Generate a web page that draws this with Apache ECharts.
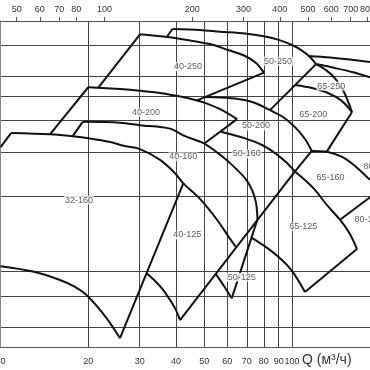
<!DOCTYPE html>
<html><head><meta charset="utf-8">
<script src="https://cdn.jsdelivr.net/npm/echarts@6/dist/echarts.min.js"></script>
<style>html,body{margin:0;padding:0;background:#fff}#c{width:370px;height:370px}</style>
</head><body><div id="c"></div>
<script>
// Axis ticks
const qTicks = [10,20,30,40,50,60,70,80,90,100];            // m3/h (bottom)
const gpmTicks = [50,60,70,80,100,200,300,400,500,600,700,800,900]; // US gpm (top)
const hTicks = [5,6,8,10,20,30,40,50,60,80,100];            // head, m
const qRange = [10,185.2];
const gpmPerM3h = 4.403;

// Pump field boundaries [Q m3/h, H m]
const c32_160_left   = [[10,31.4],[10.86,35.7]];
const c32_160_top    = [[10.86,35.7],[14.77,35.3],[17.68,34.7],[20.27,34.0],[23.74,32.9],[26.73,31.7],[30.09,30.8],[35.25,27.9],[39.67,24.7],[42.37,22.5],[48.34,19.5],[55.29,16.1],[60.79,13.7],[64.25,12.5]];
const c32_160_bottom = [[10,10.5],[12.92,10.0],[15.99,9.25],[18.0,8.68],[19.99,7.94],[23.13,6.51],[25.69,5.42]];
const c32_160_right  = [[25.69,5.42],[42.37,22.5]];
const c40_125_bottom = [[31.72,9.84],[34.14,9.09],[36.18,8.44],[38.13,7.70],[39.99,7.02],[41.28,6.40]];
const c40_125_right  = [[41.28,6.40],[102.4,25.1]];
const c40_160_left   = [[17.68,34.7],[19.13,39.6]];
const c40_160_top    = [[19.13,39.6],[25.69,39.3],[30.09,38.4],[38.13,37.2],[42.94,34.7],[49.50,32.6],[55.72,29.7],[61.27,27.1],[68.98,23.6],[72.90,21.2],[75.25,18.8],[76.15,16.2]];
const c40_200_left   = [[14.77,35.3],[19.99,54.4]];
const c40_200_top    = [[19.99,54.4],[25.69,53.5],[30.09,52.7],[35.25,51.6],[42.94,49.5],[47.21,48.2],[50.29,47.1],[57.52,44.1],[64.76,40.6]];
const c40_200_right  = [[64.76,40.6],[50.29,32.6]];
const c40_250_left   = [[21.64,54.2],[30.09,88.5]];
const c40_250_top    = [[30.09,88.5],[36.65,86.5],[43.62,84.0],[52.32,80.9],[60.31,76.6],[68.98,72.5],[75.25,68.0],[80.16,62.2]];
const c40_250_right  = [[80.16,62.2],[47.21,48.2]];
const c50_250_left   = [[37.16,86.3],[38.89,92.9]];
const c50_250_top    = [[38.89,92.9],[48.34,92.0],[56.62,90.6],[68.98,89.1],[80.80,86.7],[89.54,84.3],[100,80.2],[108.2,76.2],[115.3,71.8],[120.9,67.3]];
const c50_250_right  = [[120.9,67.3],[84.05,44.1]];
const c50_200_top    = [[50.29,49.7],[56.62,49.5],[65.27,48.8],[74.66,47.1],[84.05,44.1],[93.15,41.4],[102.4,37.7],[110.8,33.8],[116.9,30.3]];
const c50_200_right  = [[116.9,30.3],[102.4,25.1]];
const c50_160_top    = [[56.62,36.2],[68.98,34.0],[78.90,32.0],[88.13,29.5],[96.13,27.1],[102.4,25.1],[110.8,23.2],[119.9,21.2],[131.9,18.4],[146.1,16.1],[158.2,14.1],[167.1,12.3]];
const c50_125_bottom = [[54.59,9.84],[58.11,8.84],[62.10,7.82]];
const c50_125_right  = [[62.10,7.82],[76.15,16.2]];
const c65_125_bottom = [[72.33,13.7],[80.80,12.6],[90.94,11.3],[100,10.06],[110.8,8.29]];
const c65_125_right  = [[110.8,8.29],[167.1,12.3]];
const c65_160_right  = [[146.1,16.1],[185.2,19.8]];
const c65_160_top    = [[116.9,30.3],[131.6,30.1],[148.5,28.7],[164.5,26.4],[185.2,23.2]];
const c65_200_top    = [[120.9,67.3],[130.9,63.7],[140.5,59.0],[150.8,52.1],[160.7,43.3]];
const c65_200_right  = [[160.7,43.3],[131.6,30.1]];
const c65_250_bottom = [[102.4,55.5],[117.1,54.0],[132.9,51.6],[148.5,47.9],[160.7,43.3]];
const c80_250_top    = [[113.5,72.5],[135.0,71.5],[158.2,70.2],[185.2,68.6]];
const c80_200_top    = [[120.9,67.3],[140.5,64.9],[160.7,62.6],[185.2,59.6]];

// Field labels
const labelNames = ['32-160','40-125','40-160','40-200','40-250','50-125','50-160','50-200','50-250','65-125','65-160','65-200','65-250','80-125','80-160'];
const labelQ     = [18.58, 43.73, 42.37, 31.55, 43.97, 67.22, 69.91, 75.25, 89.54, 109.3, 135.6, 118.3, 136.4, 183.0, 196.6];
const labelH     = [19.3, 14.0, 28.7, 43.2, 65.7, 9.49, 29.5, 38.1, 69.2, 15.1, 23.8, 42.4, 55.0, 16.2, 26.2];

const curveLines = [c32_160_top,c32_160_bottom,c40_125_bottom,c40_160_top,c40_200_top,c40_250_top,c50_250_top,c50_200_top,c50_160_top,c50_125_bottom,c65_125_bottom,c65_160_top,c65_200_top,c65_250_bottom,c80_250_top,c80_200_top];
const edgeLines = [c32_160_left,c32_160_right,c40_125_right,c40_160_left,c40_200_left,c40_200_right,c40_250_left,c40_250_right,c50_250_left,c50_250_right,c50_200_right,c50_125_right,c65_125_right,c65_160_right,c65_200_right];

const FONT = 'Liberation Sans, Arial, sans-serif';
const lineStyle = {color:'#111', width:2};
const series = [];
curveLines.forEach(d => series.push({type:'line', data:d, symbol:'none', smooth:0.3, lineStyle, z:3}));
edgeLines.forEach(d => series.push({type:'line', data:d, symbol:'none', smooth:false, lineStyle, z:3}));
series.push({
  type:'scatter', symbolSize:0, clip:false, z:5,
  data: labelNames.map((n,i)=>({name:n, value:[labelQ[i], labelH[i]]})),
  label:{show:true, position:'inside', formatter:'{b}', fontSize:9, color:'#333', fontFamily:FONT, backgroundColor:'#fff', padding:[0,1]}
});

const chart = echarts.init(document.getElementById('c'), null, {renderer:'canvas'});
chart.setOption({
  animation:false,
  backgroundColor:'#fff',
  grid:{left:0.6, right:0, top:21, bottom:23, containLabel:false, outerBoundsMode:'none'},
  xAxis:[
    {type:'log', logBase:10, min:qRange[0], max:qRange[1], position:'bottom',
     axisLine:{show:true, lineStyle:{color:'#555', width:1}},
     axisTick:{show:false, customValues:qTicks},
     axisLabel:{customValues:qTicks, fontSize:9, color:'#333', margin:10, fontFamily:FONT},
     splitLine:{show:true, lineStyle:{color:'#444', width:1}}},
    {type:'log', logBase:10, min:qRange[0]*gpmPerM3h, max:qRange[1]*gpmPerM3h, position:'top',
     axisLine:{show:true, lineStyle:{color:'#555', width:1}},
     axisTick:{show:true, inside:false, length:4, customValues:gpmTicks, lineStyle:{color:'#555'}},
     axisLabel:{customValues:gpmTicks, fontSize:9, color:'#333', margin:7, fontFamily:FONT},
     splitLine:{show:false}}
  ],
  yAxis:{type:'log', logBase:10, min:5, max:100,
     axisLine:{show:true, lineStyle:{color:'#888', width:1}},
     axisTick:{show:false, customValues:hTicks},
     axisLabel:{show:false},
     splitLine:{show:true, lineStyle:{color:'#444', width:1}}},
  graphic:[{type:'text', left:302, top:353, style:{text:'Q (м³/ч)', fontSize:14, fill:'#333', fontFamily:FONT}}],
  series
});
</script></body></html>
